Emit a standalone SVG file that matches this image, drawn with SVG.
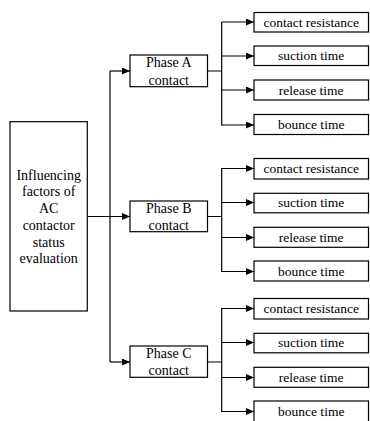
<svg xmlns="http://www.w3.org/2000/svg" width="370" height="421" viewBox="0 0 370 421" font-family="'Liberation Serif', 'Times New Roman', 'DejaVu Serif', serif">
<defs>
<marker id="ah" markerUnits="userSpaceOnUse" markerWidth="9" markerHeight="8" refX="8" refY="3.5" orient="auto">
<path d="M0,0 L8,3.5 L0,7 Z" fill="#000"/>
</marker>
<style>
.box{fill:#fff;stroke:#000;stroke-width:1.2}
.ln{fill:none;stroke:#000;stroke-width:1.2}
.ar{fill:none;stroke:#000;stroke-width:1.2;marker-end:url(#ah)}
.t{font-family:'Liberation Serif','Times New Roman',serif;font-size:14px;fill:#000;text-anchor:middle}
.s{font-size:13.5px}
</style>
</defs>
<rect width="370" height="421" fill="#fff"/>
<g id="connectors">
<path class="ln" d="M110,71 V362"/>
<path class="ar" d="M110,71 H130"/>
<path class="ar" d="M87.5,216.5 H130"/>
<path class="ar" d="M110,362 H130"/>
<path class="ln" d="M207.5,71 H221.7 M221.7,22 V125.5"/>
<path class="ar" d="M221.7,22 H254"/>
<path class="ar" d="M221.7,56 H254"/>
<path class="ar" d="M221.7,90 H254"/>
<path class="ar" d="M221.7,125 H254"/>
<path class="ln" d="M207.5,216.5 H221.7 M221.7,168 V272"/>
<path class="ar" d="M221.7,168.5 H254"/>
<path class="ar" d="M221.7,202.5 H254"/>
<path class="ar" d="M221.7,237.5 H254"/>
<path class="ar" d="M221.7,271.5 H254"/>
<path class="ln" d="M207.5,362 H221.7 M221.7,308 V412"/>
<path class="ar" d="M221.7,308.5 H254"/>
<path class="ar" d="M221.7,342.5 H254"/>
<path class="ar" d="M221.7,377.5 H254"/>
<path class="ar" d="M221.7,411.5 H254"/>
</g>
<g id="root">
<rect class="box" x="10" y="121.7" width="77.3" height="189.3"/>
<text class="t" x="48.7" y="179.7">Influencing</text>
<text class="t" x="48.7" y="196.4">factors of</text>
<text class="t" x="48.7" y="213.1">AC</text>
<text class="t" x="48.7" y="229.8">contactor</text>
<text class="t" x="48.7" y="246.5">status</text>
<text class="t" x="48.7" y="263.2">evaluation</text>
</g>
<g id="phaseA">
<rect class="box" x="130" y="55" width="77.5" height="31.7"/>
<text class="t" x="168.8" y="67.3">Phase A</text>
<text class="t" x="168.8" y="84.5">contact</text>
</g>
<g id="phaseB">
<rect class="box" x="130" y="201" width="77.5" height="30.7"/>
<text class="t" x="168.8" y="212.6">Phase B</text>
<text class="t" x="168.8" y="229.6">contact</text>
</g>
<g id="phaseC">
<rect class="box" x="130" y="346" width="77.5" height="31.3"/>
<text class="t" x="168.8" y="357.6">Phase C</text>
<text class="t" x="168.8" y="374.8">contact</text>
</g>
<g id="a1"><rect class="box" x="254" y="12.5" width="114.5" height="19.5"/><text class="t s" x="311.2" y="26.8">contact resistance</text></g>
<g id="a2"><rect class="box" x="254" y="46" width="114.5" height="19.5"/><text class="t s" x="311.2" y="60.3">suction time</text></g>
<g id="a3"><rect class="box" x="254" y="80" width="114.5" height="20"/><text class="t s" x="311.2" y="94.5">release time</text></g>
<g id="a4"><rect class="box" x="254" y="114.5" width="114.5" height="20"/><text class="t s" x="311.2" y="129">bounce time</text></g>
<g id="b1"><rect class="box" x="254" y="158.5" width="114.5" height="20.5"/><text class="t s" x="311.2" y="173.2">contact resistance</text></g>
<g id="b2"><rect class="box" x="254" y="193.3" width="114.5" height="19.5"/><text class="t s" x="311.2" y="207.4">suction time</text></g>
<g id="b3"><rect class="box" x="254" y="227.3" width="114.5" height="20"/><text class="t s" x="311.2" y="241.8">release time</text></g>
<g id="b4"><rect class="box" x="254" y="261" width="114.5" height="20"/><text class="t s" x="311.2" y="275.7">bounce time</text></g>
<g id="c1"><rect class="box" x="254" y="298.5" width="114.5" height="20.5"/><text class="t s" x="311.2" y="313.2">contact resistance</text></g>
<g id="c2"><rect class="box" x="254" y="333.3" width="114.5" height="19.5"/><text class="t s" x="311.2" y="347.4">suction time</text></g>
<g id="c3"><rect class="box" x="254" y="367.3" width="114.5" height="20"/><text class="t s" x="311.2" y="381.8">release time</text></g>
<g id="c4"><rect class="box" x="254" y="401" width="114.5" height="22"/><text class="t s" x="311.2" y="415.7">bounce time</text></g>
</svg>
